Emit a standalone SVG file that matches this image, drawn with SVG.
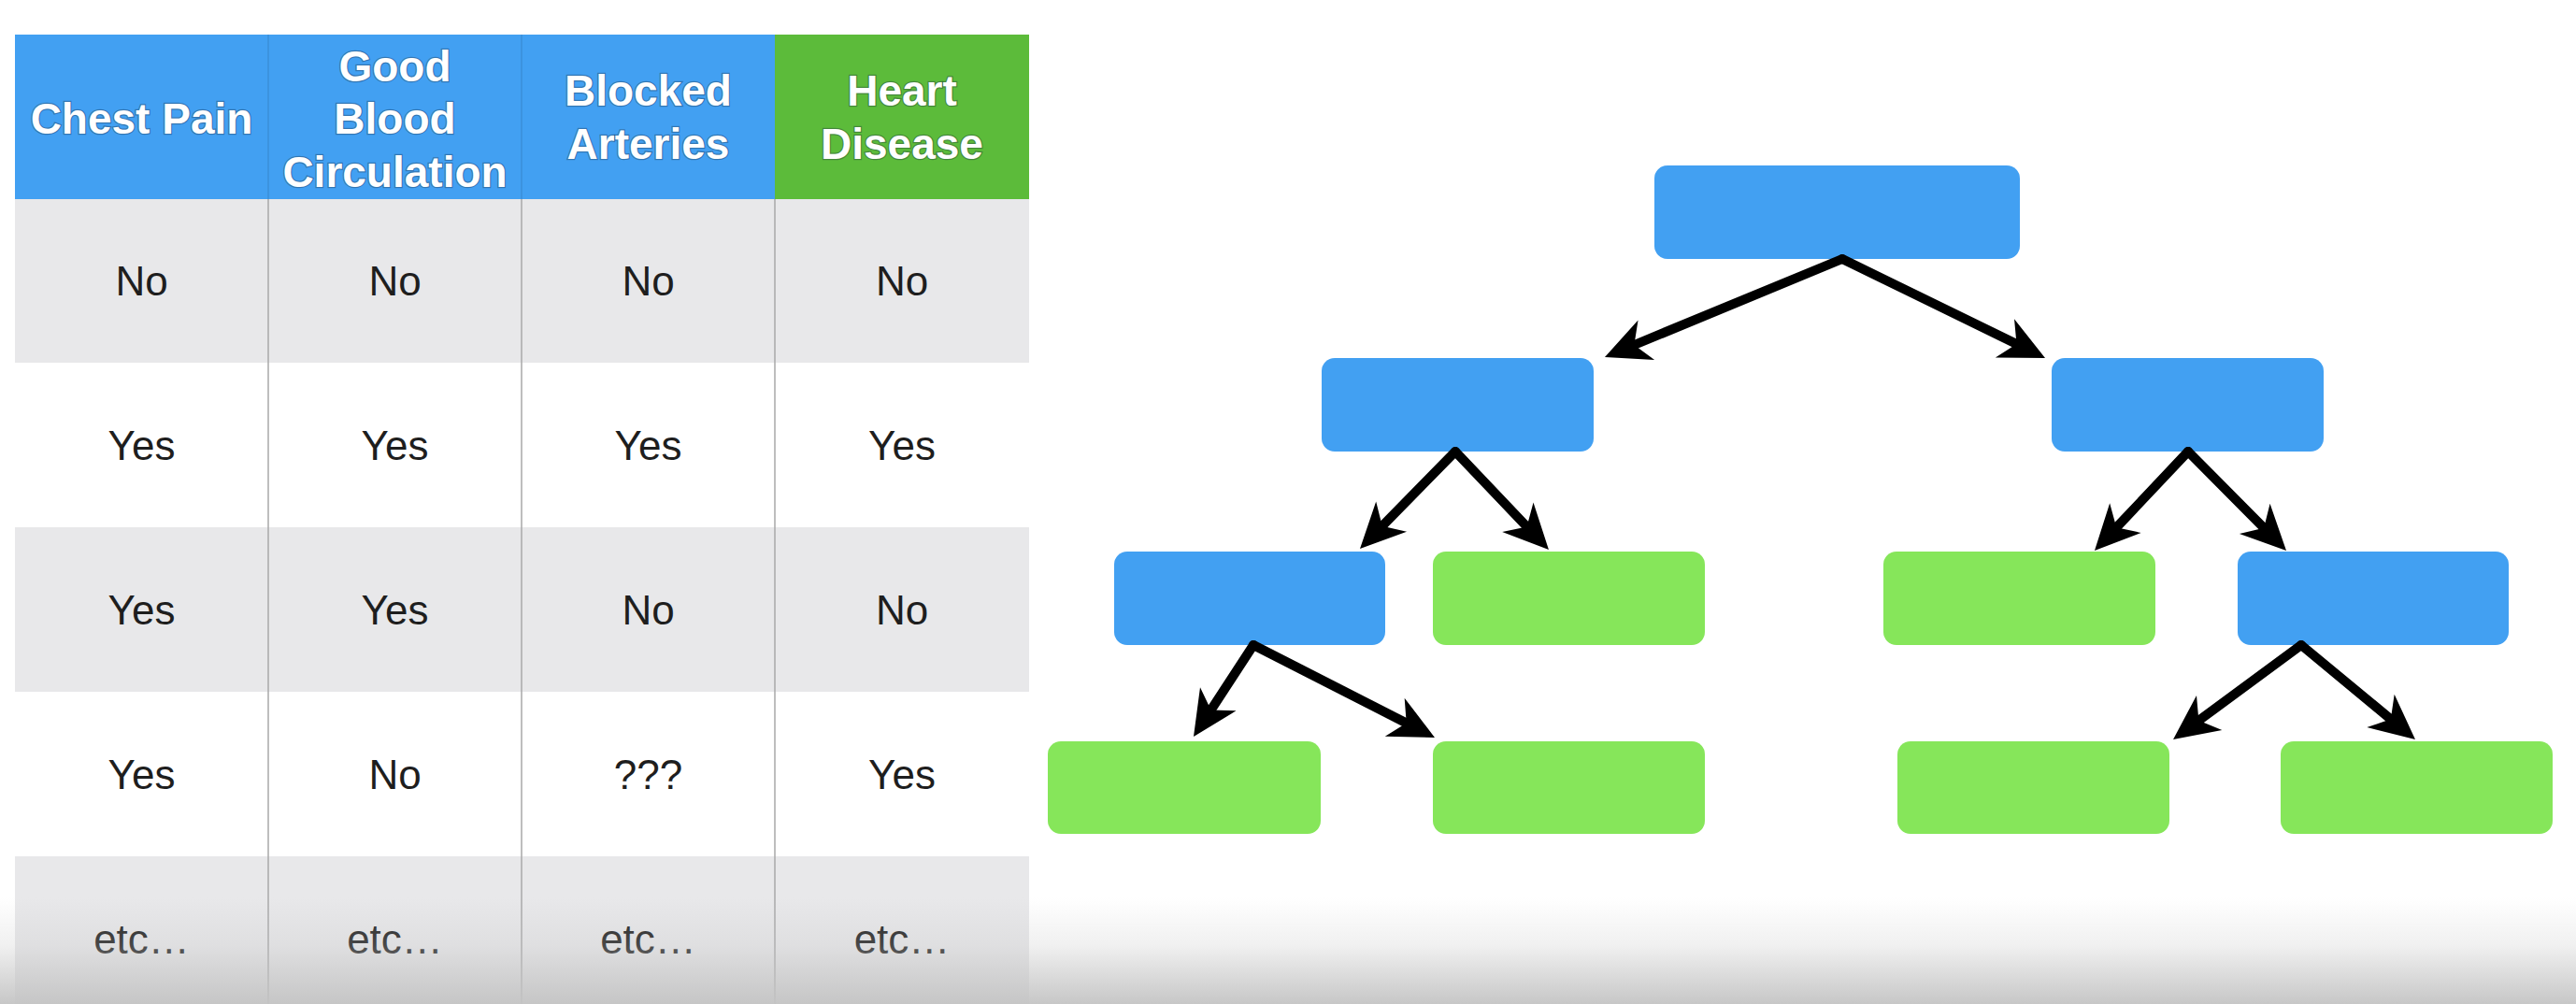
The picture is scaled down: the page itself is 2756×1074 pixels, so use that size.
<svg xmlns="http://www.w3.org/2000/svg" width="2756" height="1074" viewBox="0 0 2756 1074">
<style>
.hd{font-family:"Liberation Sans",Arial,sans-serif;font-weight:bold;font-size:46px;fill:#ffffff;text-anchor:middle;stroke:rgba(20,40,60,0.35);stroke-width:2.5px;paint-order:stroke}
.bd{font-family:"Liberation Sans",Arial,sans-serif;font-size:44px;fill:#1e1e1e;text-anchor:middle}
.blue{fill:#42a0f2}
.green{fill:#86e65a}
.conn{stroke:#000;stroke-width:10;fill:none;stroke-linecap:round;marker-end:url(#ah)}
.div{stroke:#a8a8a8;stroke-width:1.5}
.hdiv{stroke:#3b8fd9;stroke-width:1.5}
</style>
<defs>
<marker id="ah" markerUnits="userSpaceOnUse" viewBox="-16 -26 54 52" markerWidth="54" markerHeight="52" refX="0" refY="0" orient="auto" overflow="visible">
<path d="M34,0 L-14,-23 L0,0 L-14,23 Z" fill="#000"/>
</marker>
<linearGradient id="fade" x1="0" y1="0" x2="0" y2="1">
<stop offset="0" stop-color="#c4c4c4" stop-opacity="0"/>
<stop offset="0.45" stop-color="#c4c4c4" stop-opacity="0.25"/>
<stop offset="1" stop-color="#c4c4c4" stop-opacity="0.95"/>
</linearGradient>
</defs>
<rect x="0" y="0" width="2756" height="1074" fill="#ffffff"/>
<g id="table">
<rect x="16" y="37" width="813" height="176" fill="#42a0f2"/>
<rect x="829" y="37" width="272" height="176" fill="#5cbb3a"/>
<rect x="16" y="213" width="1085" height="175" fill="#e8e8ea"/>
<rect x="16" y="564" width="1085" height="176" fill="#e8e8ea"/>
<rect x="16" y="916" width="1085" height="158" fill="#e8e8ea"/>
<line class="hdiv" x1="287" y1="37" x2="287" y2="213"/>
<line class="hdiv" x1="558" y1="37" x2="558" y2="213"/>
<line class="div" x1="287" y1="213" x2="287" y2="1074"/>
<line class="div" x1="558" y1="213" x2="558" y2="1074"/>
<line class="div" x1="829" y1="213" x2="829" y2="1074"/>
<text class="hd" x="151.5" y="143">Chest Pain</text>
<text class="hd" x="422.5" y="87">Good</text>
<text class="hd" x="422.5" y="143">Blood</text>
<text class="hd" x="422.5" y="200">Circulation</text>
<text class="hd" x="693.5" y="113">Blocked</text>
<text class="hd" x="693.5" y="170">Arteries</text>
<text class="hd" x="965" y="113">Heart</text>
<text class="hd" x="965" y="170">Disease</text>
<text class="bd" x="151.5" y="316">No</text>
<text class="bd" x="422.5" y="316">No</text>
<text class="bd" x="693.5" y="316">No</text>
<text class="bd" x="965" y="316">No</text>
<text class="bd" x="151.5" y="492">Yes</text>
<text class="bd" x="422.5" y="492">Yes</text>
<text class="bd" x="693.5" y="492">Yes</text>
<text class="bd" x="965" y="492">Yes</text>
<text class="bd" x="151.5" y="668">Yes</text>
<text class="bd" x="422.5" y="668">Yes</text>
<text class="bd" x="693.5" y="668">No</text>
<text class="bd" x="965" y="668">No</text>
<text class="bd" x="151.5" y="844">Yes</text>
<text class="bd" x="422.5" y="844">No</text>
<text class="bd" x="693.5" y="844">???</text>
<text class="bd" x="965" y="844">Yes</text>
<text class="bd" x="151.5" y="1020">etc…</text>
<text class="bd" x="422.5" y="1020">etc…</text>
<text class="bd" x="693.5" y="1020">etc…</text>
<text class="bd" x="965" y="1020">etc…</text>
</g>
<g id="root"><rect class="blue" x="1770" y="177" width="391" height="100" rx="14"/></g>
<g id="n_l2_left"><rect class="blue" x="1414" y="383" width="291" height="100" rx="14"/></g>
<g id="n_l2_right"><rect class="blue" x="2195" y="383" width="291" height="100" rx="14"/></g>
<g id="n_l3_a"><rect class="blue" x="1192" y="590" width="290" height="100" rx="14"/></g>
<g id="n_l3_b"><rect class="green" x="1533" y="590" width="291" height="100" rx="14"/></g>
<g id="n_l3_c"><rect class="green" x="2015" y="590" width="291" height="100" rx="14"/></g>
<g id="n_l3_d"><rect class="blue" x="2394" y="590" width="290" height="100" rx="14"/></g>
<g id="n_l4_a"><rect class="green" x="1121" y="793" width="292" height="99" rx="14"/></g>
<g id="n_l4_b"><rect class="green" x="1533" y="793" width="291" height="99" rx="14"/></g>
<g id="n_l4_c"><rect class="green" x="2030" y="793" width="291" height="99" rx="14"/></g>
<g id="n_l4_d"><rect class="green" x="2440" y="793" width="291" height="99" rx="14"/></g>
<g id="connectors">
<path class="conn" d="M1971,277 L1748.4,369"/>
<path class="conn" d="M1971,277 L2157.5,368.1"/>
<path class="conn" d="M1557,483 L1478.8,562.7"/>
<path class="conn" d="M1557,483 L1633.5,563.4"/>
<path class="conn" d="M2341,483 L2264.3,564.3"/>
<path class="conn" d="M2341,483 L2422.1,564.8"/>
<path class="conn" d="M1341,690 L1295.6,759.5"/>
<path class="conn" d="M1341,690 L1504.7,773.5"/>
<path class="conn" d="M2462,690 L2352.4,770.8"/>
<path class="conn" d="M2462,690 L2557.8,769.3"/>
</g>
<rect x="0" y="960" width="2756" height="114" fill="url(#fade)"/>
</svg>
